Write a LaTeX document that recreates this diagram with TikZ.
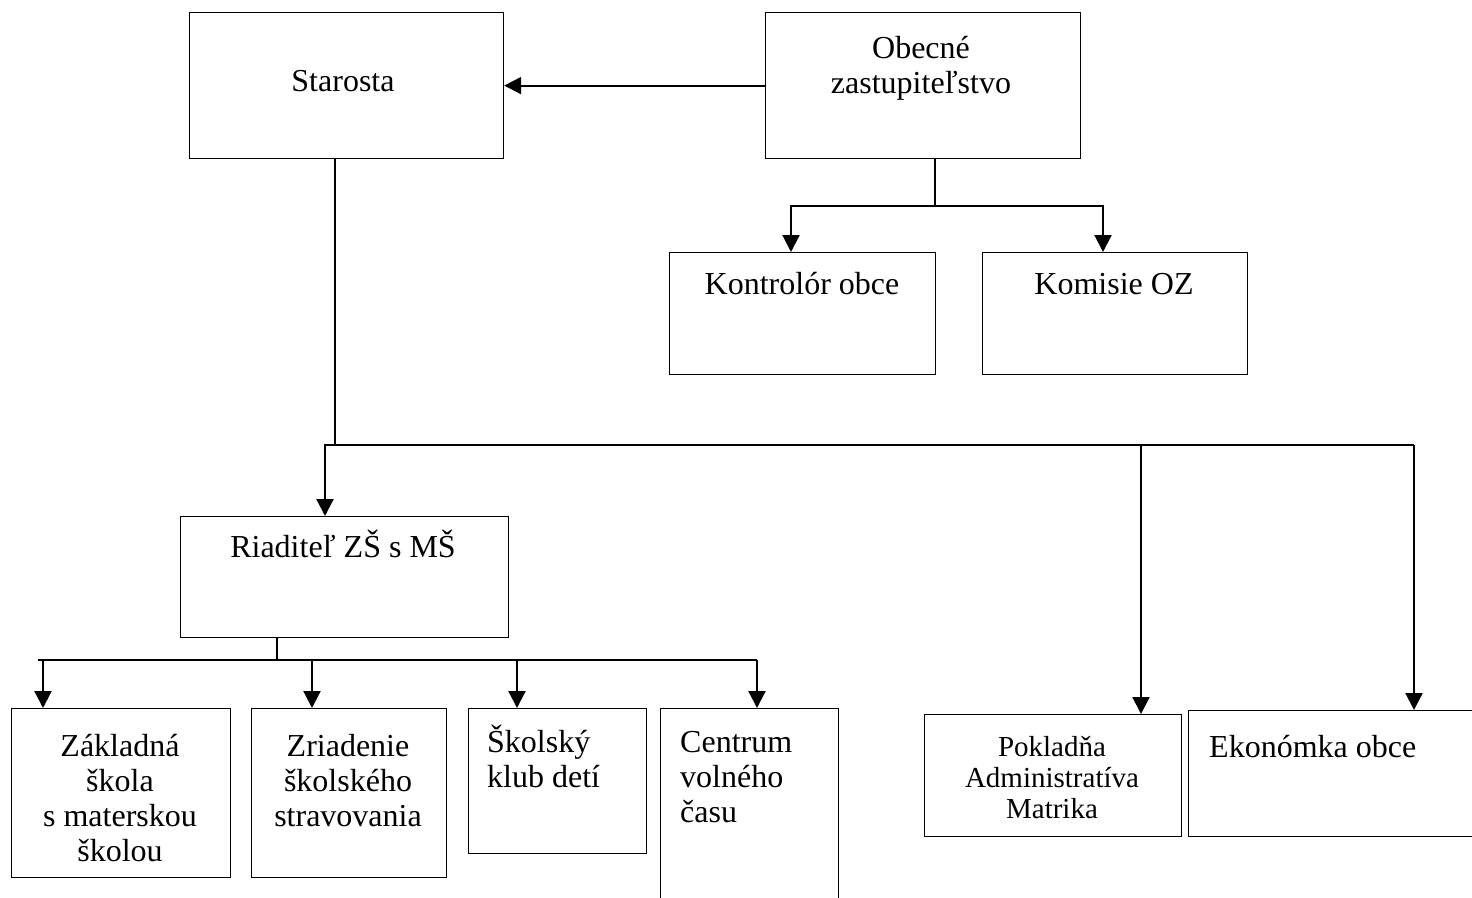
\documentclass[tikz,border=0pt]{standalone}
\usepackage{fontspec}
\setmainfont{Liberation Serif}
\usetikzlibrary{arrows.meta}
\newcommand\mlines[2]{\begin{tabular}[t]{@{}#1@{}}#2\end{tabular}}
\tikzset{
  box/.style={draw, rectangle, line width=1.2pt, inner sep=0pt, anchor=north west},
  txt/.style={inner sep=0pt, anchor=base, font=\fontsize{32}{35}\selectfont},
  txtl/.style={inner sep=0pt, anchor=base west, font=\fontsize{32}{35}\selectfont},
  txts/.style={inner sep=0pt, anchor=base, font=\fontsize{29}{31}\selectfont},
  conn/.style={line width=2.2pt},
  arr/.style={line width=2.2pt, -{Triangle[width=17pt,length=17pt]}}
}
\begin{document}
\begin{tikzpicture}[x=1pt,y=-1pt]
\useasboundingbox (0,0) rectangle (1472,897);
% boxes
\node[box, minimum width=314pt, minimum height=146pt] (starosta) at (189,12) {};
\node[box, minimum width=315pt, minimum height=146pt] (obecne) at (765,12) {};
\node[box, minimum width=266pt, minimum height=122pt] (kontrolor) at (669,252) {};
\node[box, minimum width=265pt, minimum height=122pt] (komisie) at (982,252) {};
\node[box, minimum width=328pt, minimum height=121pt] (riaditel) at (180,516) {};
\node[box, minimum width=219pt, minimum height=169pt] (zakladna) at (11,708) {};
\node[box, minimum width=195pt, minimum height=169pt] (zriadenie) at (251,708) {};
\node[box, minimum width=178pt, minimum height=145pt] (skolsky) at (468,708) {};
\node[box, minimum width=178pt, minimum height=210pt] (centrum) at (660,708) {};
\node[box, minimum width=257pt, minimum height=122pt] (pokladna) at (924,714) {};
\node[box, minimum width=300pt, minimum height=126pt] (ekonomka) at (1188,710) {};
% texts
\node[txt] (t-starosta) at (343,91) {Starosta};
\node[txt] (t-obecne) at (921,58) {\mlines{c}{Obecné\\zastupiteľstvo}};
\node[txt] (t-kontrolor) at (802,294) {Kontrolór obce};
\node[txt] (t-komisie) at (1114,294) {Komisie OZ};
\node[txt] (t-riaditel) at (343,557) {Riaditeľ ZŠ s MŠ};
\node[txt] (t-zakladna) at (120,756) {\mlines{c}{Základná\\škola\\s materskou\\školou}};
\node[txt] (t-zriadenie) at (348,756) {\mlines{c}{Zriadenie\\školského\\stravovania}};
\node[txtl] (t-skolsky) at (487,752) {\mlines{l}{Školský\\klub detí}};
\node[txtl] (t-centrum) at (680,752) {\mlines{l}{Centrum\\volného\\času}};
\node[txts] (t-pokladna) at (1052,756) {\mlines{c}{Pokladňa\\Administratíva\\Matrika}};
\node[txtl] (t-ekonomka) at (1209,757) {Ekonómka obce};
% connectors
\draw[arr] (obecne.west) -- (starosta.east);
\coordinate (ozj) at (935,206);
\draw[conn] (935,0 |- obecne.south) -- (ozj);
\draw[arr] (ozj) -| (791,0 |- kontrolor.north);
\draw[arr] (ozj) -| (1103,0 |- komisie.north);
\coordinate (sj) at (335,445);
\coordinate (hl) at (325,445);
\coordinate (hr) at (1414,445);
\draw[conn] (335,0 |- starosta.south) -- (sj);
\draw[arr] (hr) -- (hl) -- (325,0 |- riaditel.north);
\draw[arr] (hr) -- (1414,0 |- ekonomka.north);
\draw[arr] (1141,445) -- (1141,0 |- pokladna.north);
\coordinate (rj) at (277,660);
\coordinate (rl) at (38,660);
\coordinate (rr) at (757,660);
\draw[conn] (277,0 |- riaditel.south) -- (rj);
\draw[conn] (rl) -- (rr);
\draw[arr] (43,660) -- (43,0 |- zakladna.north);
\draw[arr] (312,660) -- (312,0 |- zriadenie.north);
\draw[arr] (517,660) -- (517,0 |- skolsky.north);
\draw[arr] (rr) -- (757,0 |- centrum.north);
\end{tikzpicture}
\end{document}
